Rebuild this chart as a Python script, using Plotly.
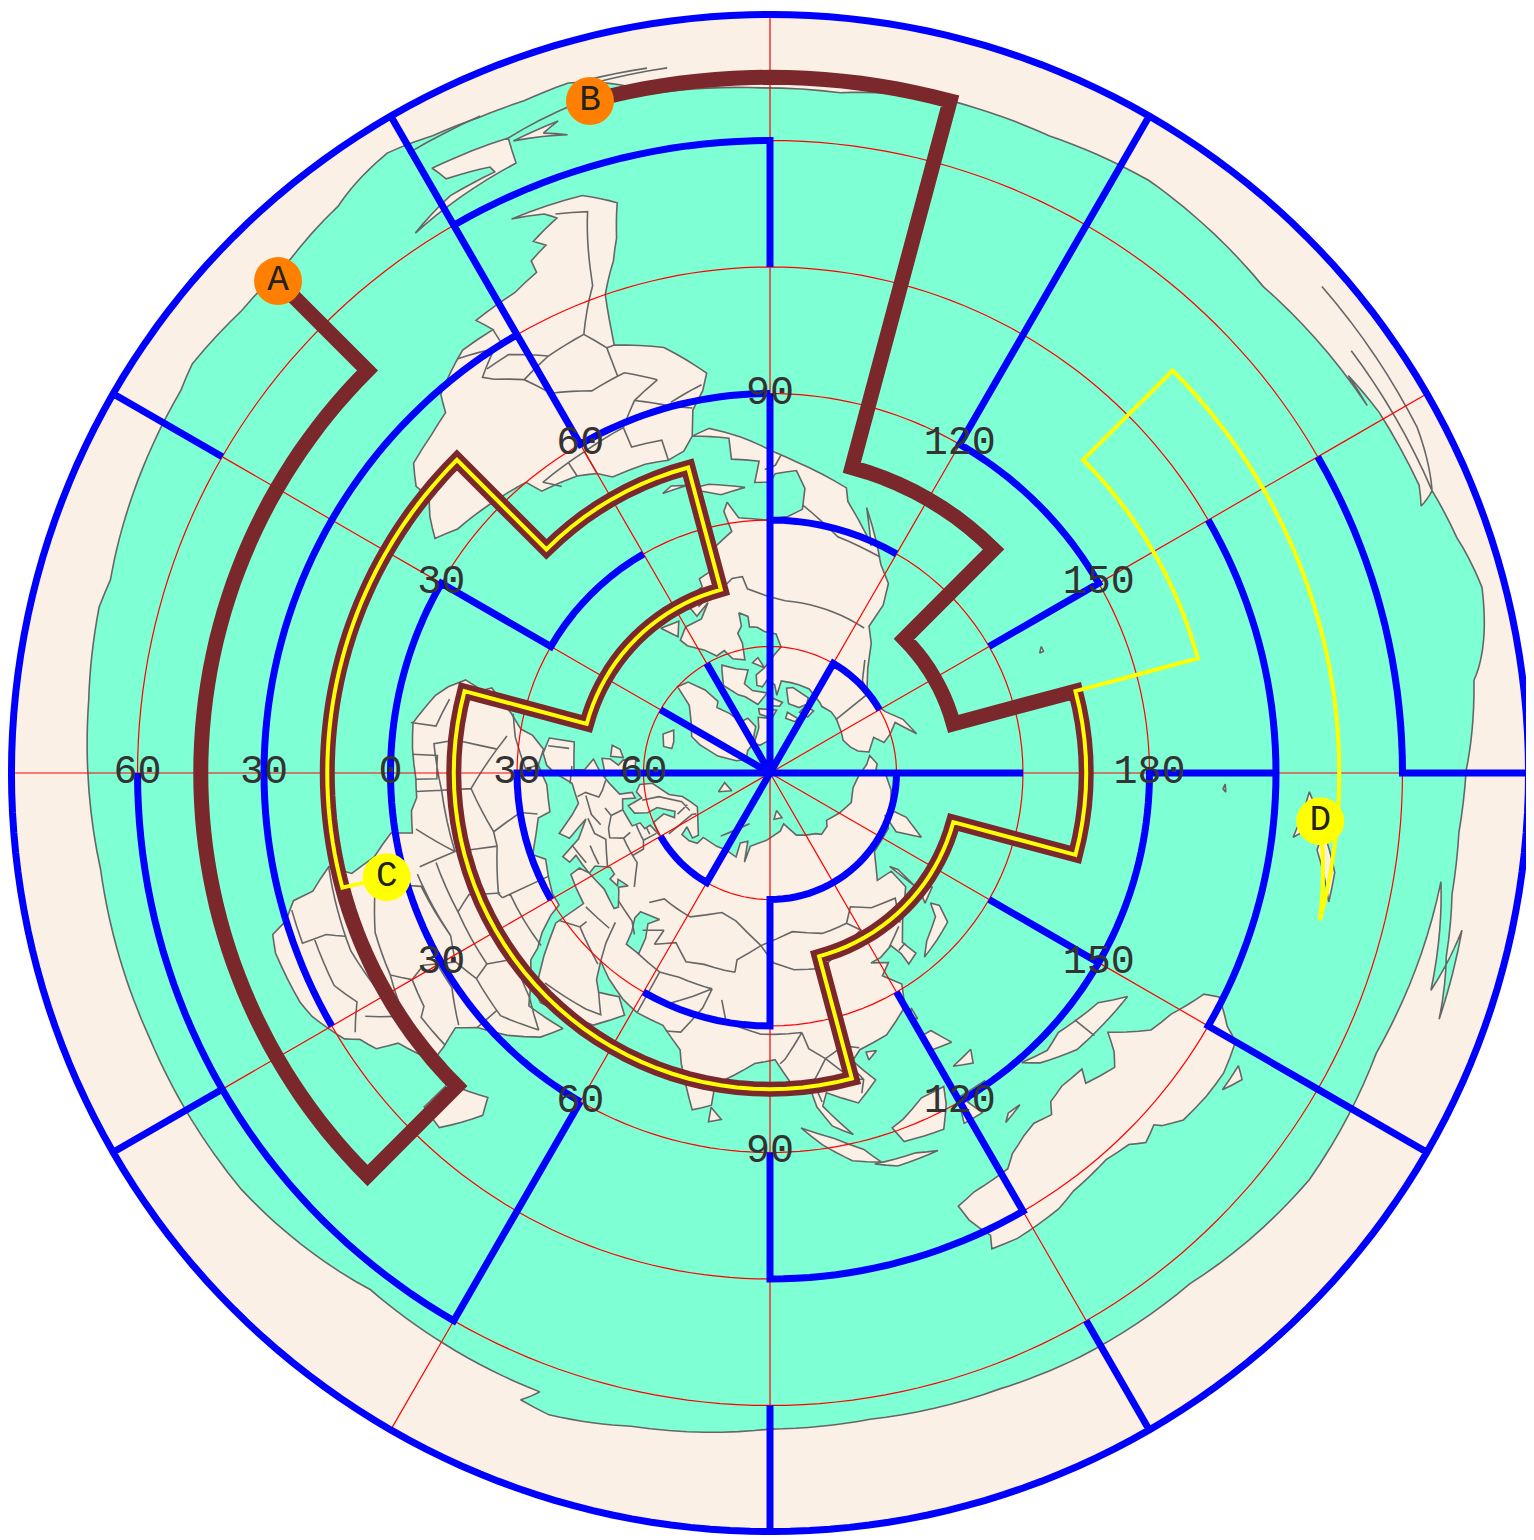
import math
import plotly.graph_objects as go

# ---- coast of the frozen south: ocean ends here (lon, lat)
ANTARCTIC_COAST = [(-35.3,-77.9),(-41.2,-76.5),(-47,-76.7),(-52.7,-79),(-58.3,-82.8),(-62.1,-81),(-66,-80.1),(-69.9,-79.8),(-73.7,-80.5),(-80,-73.6),(-89.3,-72.5),(-95.9,-72.2),
 (-105,-75.1),(-113.7,-75),(-122.6,-76.8),(-135.4,-74.3),(-148.4,-76.3),(-145.5,-76.4),(-149.4,-77.9),(-156.1,-78.4),(-157.7,-76.9),
 (-156.9,-80.7),(-161.1,-82.2),(-165.4,-84.5),(-172.5,-78.4),(-179.8,-75.1),(175.1,-74),(169.9,-74.3),(164.8,-76.2),(159.8,-79.1),(167.2,-78.3),(161.8,-75),(170.8,-71.2),(158.9,-69.2),(155.2,-68.4),
 (143,-70.2),(129.4,-66.8),(118,-66.8),(110.4,-65.9),(98.8,-65.1),(90,-65.6),(78,-68.4),(71,-71),(68.3,-70),(69.6,-66.6),(60.4,-65.9),
 (52.3,-64.9),(38.2,-69.6),(23.3,-70),(8.2,-70.4),(-6.1,-72.5),(-13.9,-73.9),(-16.3,-73),(-33,-76.6)]

PENINSULA = [(-67.6,-72.9),(-60.8,-74.3),(-61.4,-70.5),(-65.2,-68.3),(-65.4,-66.8),(-61,-66.5),(-56.7,-63.2),(-67.4,-66.7)]
PENINSULA_SPIKE = [(-67.9,-71.8),(-72.4,-68.8),(-70.5,-71),(-72,-72.6)]
NORTH_AMERICA = [(-168,66),(-166,68.5),(-162,70),(-156,71),(-150,70.5),(-141,69.7),(-135,69.5),(-128,70),(-125,69.5),(-115,68),(-108,68),(-103,68),(-97,68),(-95,71.5),(-93,69),(-88,68),(-85,69.5),(-81.5,69),(-82,66.5),(-87,65),(-92,62),(-95,60),(-92.5,57),(-88,56.5),(-85,55.3),(-82,55),(-82,52.5),(-79,51.3),(-79,54.5),(-77,56),(-78,58.5),(-77.5,62.5),(-72,61.5),(-69.5,59),(-65.5,59.5),(-62,57),(-57,54),(-56,52),(-60,50),(-66,50),(-70,47),(-65,49),(-64,46),(-61,46),(-66,44),(-70,43),(-70,41),(-74,40),(-76,37),(-76,35),(-81,32),(-80,27),(-81,25),(-83,29),(-89,30),(-94,29),(-97,27),(-97,22),(-95,18),(-91,19),(-90,21),(-87,21),(-88,16),(-83,15),(-83,10),(-80,9),(-77,8),(-80,7),(-85,10),(-91,14),(-95,16),(-105,20),(-106,23),(-112,29),(-114,31),(-110,23),(-115,30),(-118,34),(-122,37),(-124,42),(-124,48),(-128,51),(-133,56),(-140,60),(-148,60),(-152,59),(-158,56),(-165,54),(-158,58),(-162,60),(-165,62),(-161,64)]
SOUTH_AMERICA = [(-77,8),(-75,11),(-72,12),(-68,11),(-62,10.5),(-60,8),(-57,6),(-51,4),(-50,0),(-44,-2),(-38,-4),(-35,-7),(-37,-11),(-39,-14),(-39,-18),(-41,-22),(-45,-23.5),(-48,-25),(-49,-29),(-54,-34),(-58,-34),(-57,-38),(-62,-39),(-65,-41),(-65,-44),(-67,-46),(-66,-48),(-69,-51),(-68,-53),(-65,-55),(-72,-54),(-75,-50),(-74,-42),(-73,-37),(-71,-30),(-70,-18),(-76,-14),(-81,-6),(-80,-2),(-78,2)]
AFRICA = [(-6,36),(-2,35),(3,37),(10,37),(11,34),(15,32.5),(19,30.5),(21,33),(25,32),(29,31),(32,31),(33,28),(35,24),(37,21),(38,18),(41,15),(43,12),(44,10.5),(51,12),(49,7),(45,2),(41,-2),(39,-6),(40,-11),(40.5,-15),(36,-19),(35,-24),(33,-26),(32,-29),(28,-33),(26,-34),(20,-34.8),(18,-34),(17,-30),(15,-27),(14.5,-22),(12,-17),(13.5,-12),(12,-6),(9,-1),(9.5,4),(6,4.5),(4,6),(1,6),(-4,5),(-8,4.5),(-13,8.5),(-15,11),(-17,14.5),(-16,19),(-17,21),(-13,27),(-10,30),(-9,33)]
EURASIA = [(-9,37),(-9,43),(-1,43.5),(-1,46),(-4.5,48),(-1,49.5),(2,51),(4,52),(8,54),(8,57),(10.5,57.5),(10,54.5),(14,54),(18.5,54.7),(21,55),(21,57),(24,57.5),(23.5,59),(30,60),(23,60),(21,63),(25,65),(22,65.7),(17,62),(18,59.5),(16.5,56.5),(13,55.5),(11,59),(8,58),(5,59),(5,62),(12,65.5),(15,68.5),(20,70),(25,71),(31,70),(41,67.5),(40,66),(33,66.5),(35,64.5),(40,65),(44,66),(44,68),(54,68.5),(60,69),(68,68.5),(67,72),(72,73),(74,68),(75,72),(80,73),(87,74),(100,76),(105,77.5),(113,74),(120,73),(127,72),(130,71),(137,71.5),(140,72.5),(150,71),(160,69.5),(170,70),(178,69),(-175,67),(-170,66),(-175,64.5),(180,65),(179,62.5),(172,61),(163,60),(162,56),(157,51),(155,57),(160,61),(155,59),(143,59),(135,54),(141,53),(140,48),(132,43),(128,39),(129,35),(126,34),(126,37),(125,40),(121,39),(118,39),(122,37),(119,35),(122,31),(120,26),(114,22),(108,21),(106,19),(109,13),(105,9),(100,13),(99,10),(103,2),(100,5),(98,10),(97,16),(94,16),(91,22),(87,21),(80,15),(80,10),(77,8),(73,18),(72,21),(67,25),(61,25),(57,26),(52,28),(48,30),(50,26),(52,24),(56,26),(59,23),(55,17),(45,13),(43,14),(39,21),(35,28),(35,36),(31,36.5),(27,37),(26.5,39.5),(29,41),(35,42),(41,41),(41.5,42),(38,44.5),(37,45),(38.5,47),(35,46),(36.5,45),(33.5,44.5),(33,46),(30.5,46),(28,43),(29,41),(26,40.5),(23,40),(24,38),(22,37),(19,42),(14,45),(18,40),(16,38),(12,42),(9,44),(3,43),(0,39),(-2,37),(-5,36)]
GREENLAND = [(-73,78.5),(-68,80),(-60,82),(-45,82.5),(-30,83.5),(-20,81.5),(-18,77),(-22,72),(-25,69.5),(-32,68),(-40,65),(-43,60),(-48,61),(-52,65),(-54,69),(-51,70),(-56,73),(-60,76),(-68,76)]
BAFFIN = [(-80,73.5),(-72,71),(-68,70),(-62,66.5),(-65,63),(-66,62),(-72,64),(-78,65),(-74,68),(-78,70),(-88,71)]
VICTORIA = [(-117,70),(-105,69),(-101,69.5),(-105,73),(-114,73),(-118,71.5)]
ELLESMERE = [(-90,77),(-78,76.5),(-76,79),(-62,82),(-70,83),(-85,82.5),(-92,81)]
BANKS = [(-125,72),(-118,72),(-116,74),(-124,74)]
MELVILLE = [(-117,75.5),(-106,75),(-106,76.5),(-116,76.5)]
DEVON = [(-96,75),(-80,74.5),(-80,75.8),(-92,77)]
SOMERSET = [(-100,73),(-90,72),(-90,74),(-98,74)]
SOUTHAMPTON = [(-87,65),(-81,63.5),(-84,62.5)]
NEWFOUNDLAND = [(-59,48),(-53,47),(-56,51)]
ICELAND = [(-24,65),(-18,66),(-14,66),(-14,64),(-20,63)]
BRITAIN = [(-5,50),(1,51),(0,54),(-2,56),(-3,58),(-6,58),(-5,55),(-3,54),(-5,52)]
IRELAND = [(-10,52),(-6,52),(-6,55),(-9,54)]
SVALBARD = [(12,79),(25,80),(20,77)]
NOVAYA = [(52,71),(68,77),(56,73)]
SEVERNAYA = [(95,79),(105,79),(100,81)]
HONSHU = [(130,33),(135,34),(140,35),(142,39),(141,41),(139,38),(133,35.5)]
HOKKAIDO = [(140,42),(145,43),(142,45)]
SAKHALIN = [(142,46),(143,52),(142,54),(142,50)]
TAIWAN = [(121,25),(120,23),(121,22)]
HAINAN = [(109,20),(111,19.5),(109,18)]
SRI_LANKA = [(80,9.5),(82,7),(80,6)]
MADAGASCAR = [(44,-16),(49,-12),(50,-16),(47,-25),(44,-24)]
SUMATRA = [(95,5.5),(100,2),(104,-2),(106,-6),(102,-4),(98,1)]
JAVA = [(105,-6),(111,-6.5),(114,-8),(108,-8)]
BORNEO = [(109,1),(111,2),(115,5),(119,5),(118,1),(116,-4),(110,-3)]
SULAWESI = [(120,1),(125,1),(121,-1),(122,-5),(119,-5)]
TIMOR = [(124,-10),(127,-8.5),(125,-8.5)]
NEW_GUINEA = [(131,-1),(135,-3),(138,-2),(145,-5),(148,-10),(143,-9),(138,-8),(133,-4)]
LUZON = [(120,18),(122,18),(124,13),(120,14)]
MINDANAO = [(122,8),(126,9),(125,6)]
AUSTRALIA = [(113.5,-22),(116,-20.5),(121,-19.5),(122.5,-17),(125,-15),(127,-14),(129.5,-15),(130.5,-12.5),(133,-11.5),(136.5,-12),(135.5,-15),(139.5,-17.5),(141,-15),(142.5,-11),(144,-14.5),(146,-19),(149,-21),(153,-25.5),(153.5,-29),(151,-34),(150,-37.5),(146.5,-39),(143.5,-38.8),(140,-38),(138,-35),(137.5,-33.5),(135.5,-35),(134,-32.5),(131,-31.5),(126,-32.5),(123.5,-34),(118,-35),(115,-34.5),(115.5,-31.5),(114,-26)]
TASMANIA = [(145,-41),(148,-41),(147,-43.5)]
NZ_NORTH = [(173,-35),(178,-38),(175,-41),(174,-38)]
NZ_SOUTH = [(172,-41),(174,-42),(170,-46),(167,-46)]
CUBA = [(-85,22),(-80,23),(-74,20),(-78,20)]
HISPANIOLA = [(-74,19),(-69,19),(-71,18)]
HAWAII = [(-156,20),(-155,19),(-156,19)]
FIJI = [(178,-17.5),(178.6,-18),(177.6,-18.2)]
LAND = [PENINSULA,PENINSULA_SPIKE,NORTH_AMERICA,SOUTH_AMERICA,AFRICA,EURASIA,GREENLAND,BAFFIN,VICTORIA,ELLESMERE,BANKS,MELVILLE,DEVON,SOMERSET,SOUTHAMPTON,NEWFOUNDLAND,ICELAND,BRITAIN,IRELAND,SVALBARD,NOVAYA,SEVERNAYA,HONSHU,HOKKAIDO,SAKHALIN,TAIWAN,HAINAN,SRI_LANKA,MADAGASCAR,SUMATRA,JAVA,BORNEO,SULAWESI,TIMOR,NEW_GUINEA,LUZON,MINDANAO,AUSTRALIA,TASMANIA,NZ_NORTH,NZ_SOUTH,CUBA,HISPANIOLA,HAWAII,FIJI]
CASPIAN = [(47,45),(53,46.5),(51,44),(53,41),(54,37),(50,37),(49,40),(47,43)]

SLIVERS = [[(-75.4,-78.9),(-81.7,-79)],[(-75,-80),(-80.1,-79.7)],[(-138.6,-84.5),(-151.9,-84),(-156.9,-80.7),(-144,-80.4)],[(-67.6,-72.9),(-73.8,-75.3)],[(-59.7,-80.2),(-66.2,-80.3)]]

BORDERS = [
 [(-123,49),(-95,49),(-89,48),(-83,46),(-82,43),(-79,43),(-75,45),(-70,46),(-67,47),(-67,45)],[(-141,70),(-141,60),(-135,59),(-130,55)],[(-117,32.5),(-106,31.7),(-97,26)],[(-92,14.5),(-91,17),(-89,18)],
 [(-72,12),(-72,7),(-67,6),(-67,1)],[(-60,8),(-60,5),(-60,2),(-67,1),(-70,-4),(-74,-7),(-70,-11),(-65,-10),(-60,-14),(-58,-20),(-55,-24),(-54,-26),(-57,-30),(-53,-33)],[(-57,6),(-57,2)],[(-54,6),(-52,2.5),(-60,2)],[(-78,1.5),(-75,0),(-70,-4)],[(-80,-3.5),(-75,-1)],[(-69,-11),(-69,-18),(-67,-23),(-62,-22),(-58,-20)],[(-70,-18),(-69,-18)],[(-67,-23),(-70,-33),(-72,-50),(-69,-52)],[(-62,-22),(-58,-27),(-55,-27)],[(-58,-34),(-58,-30)],
 [(-2,35),(-1,32),(-8,29),(-13,27.5)],[(-8,27),(-5,25),(3,19),(12,23)],[(-16,16),(-6,15),(-5,25)],[(10,34),(9,30),(12,23)],[(25,32),(25,20)],[(12,23),(15,23),(24,19.5),(25,20)],[(25,22),(37,22)],[(24,20),(22,13),(24,9)],[(15,23),(14,13)],[(3,19),(3,12),(14,13)],[(-6,15),(-5,10),(3,12)],[(-13,12),(-8,10),(-8,4)],[(-3,5),(-3,11),(1,11),(1,6)],[(3,6),(3,12)],[(14,13),(9,5)],[(15,8),(24,9),(34,9)],[(14,13),(15,4)],[(16,3),(27,5)],[(12,-5),(17,-1),(18,3),(27,5),(31,3),(29,-4),(30,-8),(28,-12),(22,-11),(17,-8),(12,-6)],[(36,15),(43,12),(48,8),(42,4),(35,5),(34,9),(36,15)],[(41,-2),(41,4)],[(39,-5),(34,-1),(30,-1)],[(35,5),(31,3)],[(40,-10.5),(35,-11),(34,-9),(30,-8)],[(12,-17),(23,-18),(30,-16),(33,-14),(28,-12)],[(16,-28),(20,-28),(20,-22),(21,-18)],[(20,-25),(26,-25),(29,-22),(32,-26)],[(33,-16),(31,-22)],
 [(12,59),(12,63),(18,68),(25,69)],[(24,66),(21,69)],[(31,62),(28,69),(29,70)],[(-2,43),(3,42.5)],[(-7,42),(-7,37)],[(2.5,51),(6,50),(8,49),(7,47.5),(6,46),(7,44)],[(14,54),(15,51)],[(12,50),(15,51),(19,49.5),(22,49),(24,52),(23,54)],[(7,46),(13,46.5),(17,48)],[(14,45.5),(19,46),(22,48),(30,45.5)],[(22,44),(28,44)],[(20,40),(26,41.5)],[(40,48),(34,52),(31,52),(24,52)],[(31,52),(31,55),(28,56),(24,56),(21,56)],[(28,59.5),(28,56)],[(24,58),(27,58)],
 [(47,48),(50,51),(61,51),(71,55),(77,54),(87,49)],[(87,49),(98,52),(108,50),(117,50)],[(117,50),(121,53),(127,50),(135,48),(131,43)],[(87,49),(91,45),(97,43),(105,42),(112,45),(120,47),(117,50)],[(87,49),(80,45),(80,42)],[(51,42),(56,45),(56,41),(61,44),(66,41),(71,42),(80,42)],[(53.5,37),(61,36),(66,37),(71,37),(75,37)],[(61,29.5),(66,30),(71,34),(75,37)],[(61,25),(61,29.5)],[(61,36),(61,29.5)],[(44,39),(46,34),(48,30)],[(36,36),(44,37)],[(39,32),(48,29)],[(43,17),(52,19),(55,20),(52,24)],[(35,29),(39,32),(39,34)],[(40,43),(47,42),(50,40)],
 [(68,24),(71,25),(74,32),(75,37)],[(78,35),(80,30),(88,28),(97,28)],[(97,28),(93,22),(92,21)],[(97,28),(98,24),(101,21),(105,23),(108,21.5)],[(101,21),(105,15),(107,14)],[(105,23),(105,19),(107,14),(106,11)],[(101,21),(98,16),(99,11)],[(124.5,40),(130,42.5)],[(126,38),(128.5,38.5)],[(141,-3),(141,-9)]]

# ---- routes (lon, lat); parallel legs follow the parallel
BLUE_ROUTES = [
 [(180,-89.9),(180,-60),(210,-60)],[(210,-30),(150,-30),(150,-89.9)],[(180,-30),(180,0),(120,0)],[(120,30),(120,-30),(90,-30),(90,0)],
 [(150,30),(150,0)],[(90,-60),(90,-89.9)],[(120,-60),(120,-89.9)],[(60,0),(60,-60),(0,-60)],[(60,0),(-30,0),(-30,30),(-60,30)],
 [(30,-60),(30,-89.9)],[(-30,-60),(-30,-89.9)],[(-60,-30),(30,-30)],[(-60,-89.9),(-60,0),(-90,0)],[(-60,-60),(-90,-60),(-90,-30)],
 [(-90,0),(-90,90)],[(-90,30),(-120,30)],[(-120,90),(-120,60),(-150,60)],[(-60,90),(-60,60)],[(-30,90),(-30,60)],[(0,90),(0,30),(30,30)],
 [(180,90),(180,30)],[(180,60),(90,60),(90,30),(60,30)],[(60,90),(60,60),(30,60)],[(240,-89.9),(240,0),(210,0),(210,30)]]
BROWN_ROUTE = [(-45,-75),(-45,-45),(45,-45),(45,-15),(-45,-15),(-45,15),(-75,15),(-75,45),(-15,45),(-15,15),(105,15),(105,45),(165,45),(165,15),(195,15),(195,45),(225,45),(225,15),(255,15),(255,-75),(285,-75)]
YELLOW_ROUTE = [(15.2,-4.2),(15,-15),(-45,-15),(-45,15),(-75,15),(-75,45),(-15,45),(-15,15),(105,15),(105,45),(165,45),(165,15),(195,15),(195,-15),(225,-15),(225,-45),(165,-45),(175,-41)]

TICK_LON = [-30,30,-60,60,-90,90,-120,120,-150,150,180]
TICK_LON_TEXT = ["30","30","60","60","90","90","120","120","150","150","180"]
TICK_LAT = [-60,-30,0,30,60]
TICK_LAT_TEXT = ["60","30","0","30","60"]
GRID_LAT = [60,30,0,-30,-60]
GRID_LON = [0,30,60,90,120,150,180,210,240,270,300,330]

ENDS_LON = [-45,-75,15.2,175]
ENDS_LAT = [-75,-75,-4.2,-41]
ENDS_TEXT = ["A","B","C","D"]
ENDS_COLOR = ["#ff7f00","#ff7f00","#ffff00","#ffff00"]

BROWN,BLUE,YELLOW,RED,GREY,LINEN,SEA = "#7b282c","#0000ff","#ffff00","#ff0000","#666666","#faf0e6","#7fffd4"
FONT = "Liberation Mono"

def norm(lon):
    return ((lon+180)%360)-180

def walk(points):
    lons,lats=[points[0][0]],[points[0][1]]
    for a,b in zip(points,points[1:]):
        if a[1]==b[1] and a[0]!=b[0]:
            n=max(2,math.ceil(abs(b[0]-a[0])/3))
            for i in range(1,n+1):
                lons.append(a[0]+(b[0]-a[0])*i/n); lats.append(a[1])
        else:
            lons.append(b[0]); lats.append(b[1])
    return [norm(v) for v in lons],lats

def many(routes):
    lons,lats=[],[]
    for r in routes:
        x,y=walk(r)
        lons+=x+[None]; lats+=y+[None]
    return lons,lats

def clockwise(ring):
    s=0
    pts=[(-(90-la)*math.cos(math.radians(lo)),(90-la)*math.sin(math.radians(lo))) for lo,la in ring]
    for (x0,y0),(x1,y1) in zip(pts,pts[1:]+pts[:1]):
        s+=x0*y1-x1*y0
    return ring if s>0 else ring[::-1]

def rings(polys):
    lons,lats=[],[]
    for p in polys:
        q=clockwise(p)
        q=q+q[:1]
        lons+=[v[0] for v in q]+[None]; lats+=[v[1] for v in q]+[None]
    return lons[:-1],lats[:-1]

def add_line(lons,lats,color,width):
    fig.add_trace(go.Scattergeo(lon=lons,lat=lats,mode="lines",line=dict(color=color,width=width),hoverinfo="skip",showlegend=False))

def add_fill(lons,lats,fill,color,width):
    fig.add_trace(go.Scattergeo(lon=lons,lat=lats,mode="lines",fill="toself",fillcolor=fill,line=dict(color=color,width=width),hoverinfo="skip",showlegend=False))

fig=go.Figure()
disk=[(v,-89.9) for v in range(0,360,5)]
add_fill(*rings([disk]),LINEN,LINEN,0.5)
add_fill(*rings([ANTARCTIC_COAST]),SEA,GREY,1.6)
add_fill(*rings(LAND),LINEN,GREY,1.6)
add_fill(*rings([CASPIAN]),SEA,GREY,1.6)
add_line(*many(BORDERS),GREY,1.6)
add_line(*many(SLIVERS),GREY,1.6)
gl=[[(g,90),(g,-89.9)] for g in GRID_LON]+[[(-180,g),(180,g)] for g in GRID_LAT]
add_line(*many(gl),RED,1.2)
add_line(*many(BLUE_ROUTES+[[(0,-89.9),(360,-89.9)]]),BLUE,7)
add_line(*walk(BROWN_ROUTE),BROWN,15)
add_line(*walk(YELLOW_ROUTE),YELLOW,4)
fig.add_trace(go.Scattergeo(lon=TICK_LON+[0]*len(TICK_LAT),lat=[0]*len(TICK_LON)+TICK_LAT,text=TICK_LON_TEXT+TICK_LAT_TEXT,mode="text",
    textposition="middle center",textfont=dict(family=FONT,size=40,color="#333333"),hoverinfo="skip",showlegend=False))
fig.add_trace(go.Scattergeo(lon=ENDS_LON,lat=ENDS_LAT,text=ENDS_TEXT,mode="markers+text",textposition="middle center",
    marker=dict(size=48,color=ENDS_COLOR,line=dict(width=0)),textfont=dict(family=FONT,size=36,color="#222222"),hoverinfo="skip",showlegend=False))
fig.update_geos(projection_type="azimuthal equidistant",projection_rotation=dict(lon=90,lat=90,roll=0),projection_scale=0.498,
    showland=False,showocean=False,showlakes=False,showcountries=False,showcoastlines=False,showframe=False,showrivers=False,showsubunits=False,
    bgcolor="rgba(0,0,0,0)",lataxis=dict(showgrid=False),lonaxis=dict(showgrid=False))
fig.update_layout(width=1524,height=1530,margin=dict(l=0,r=0,t=0,b=0),paper_bgcolor="white",plot_bgcolor="white",showlegend=False)
fig.write_html("out.html",post_script="document.documentElement.style.overflow='hidden';")
